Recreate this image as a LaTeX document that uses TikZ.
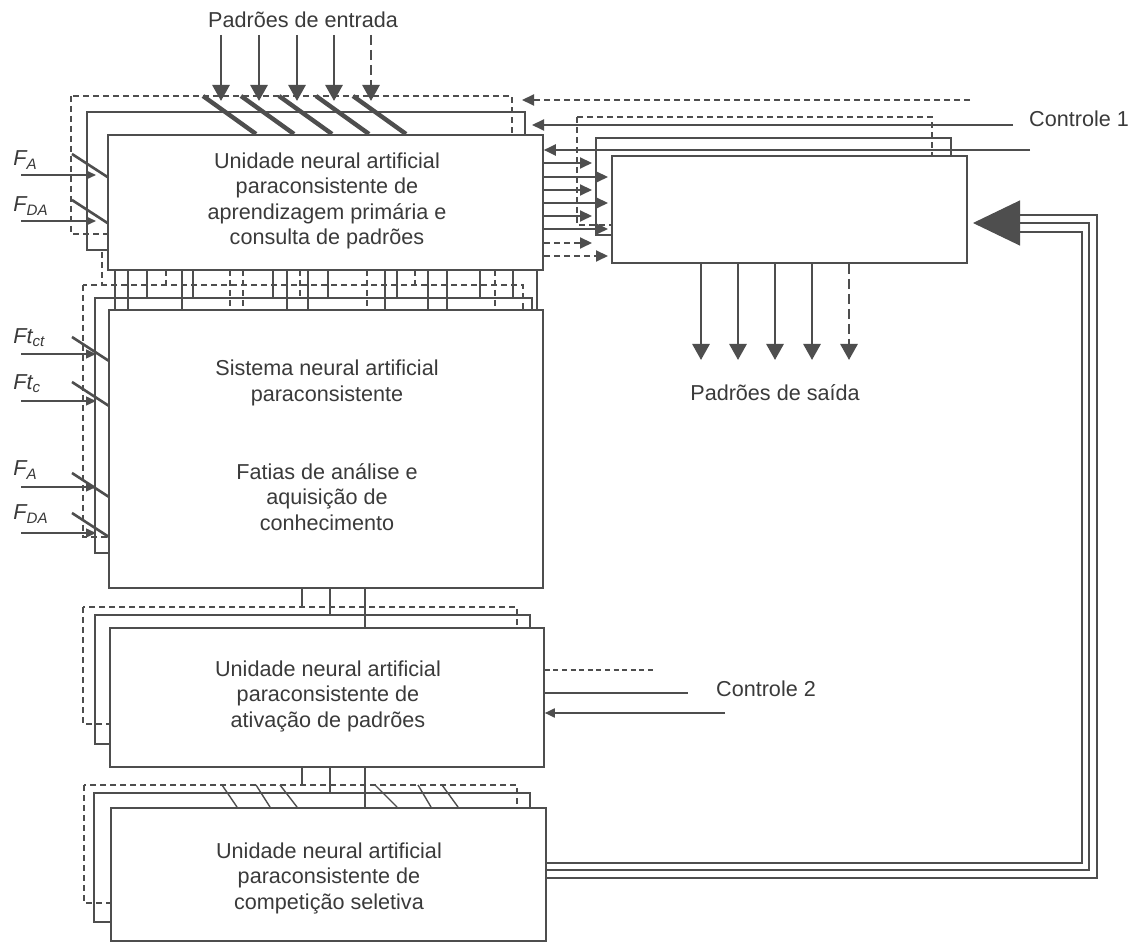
\documentclass[tikz,border=0pt]{standalone}
\usepackage{fontspec}
\setmainfont{Liberation Sans}
\usetikzlibrary{arrows.meta,fit}
\definecolor{ink}{HTML}{4E4E4E}
\definecolor{textc}{HTML}{3A3A3A}
\begin{document}
\begin{tikzpicture}[x=0.5pt,y=-0.5pt,
  txt/.style={text=textc, font=\fontsize{10.8}{12.75}\selectfont, align=center, inner sep=0pt},
  lbl/.style={text=textc, font=\fontsize{10.8}{12}\selectfont\itshape, anchor=west, inner sep=0pt},
  thin/.style={draw=ink, line width=0.7pt},
  dsh/.style={draw=ink, line width=0.7pt, dash pattern=on 3pt off 2pt},
  dshdot/.style={dash pattern=on 5pt off 2.5pt},
  box/.style={draw=ink, line width=0.8pt, fill=white, inner sep=0pt},
  bigin/.style={draw=ink, line width=1.4pt, -{Triangle[length=8pt,width=8.5pt]}},
  smallin/.style={draw=ink, line width=1pt, -{Triangle[length=6pt,width=5.5pt]}},
  sidein/.style={draw=ink, line width=0.7pt, -{Triangle[length=5pt,width=4.5pt]}},
  slashthick/.style={draw=ink, line width=2.2pt},
  slashmid/.style={draw=ink, line width=1.3pt},
  slashthin/.style={draw=ink, line width=0.7pt},
  fb/.style={draw=ink, line width=0.6pt},
]
\useasboundingbox (0,0) rectangle (1134,945);
\fill[white] (0,0) rectangle (1134,945);

% ---------- back rectangles ----------
% box 1
\draw[dsh] (71,96) rectangle (512,234);
\draw[thin] (87,112) rectangle (525,250);
% box 2
\draw[dsh] (83,285) rectangle (523,537);
\draw[thin] (95,298) rectangle (532,553);
% box 3
\draw[dsh] (83,607) rectangle (517,724);
\draw[thin] (95,615) rectangle (530,744);
% box 4
\draw[dsh] (84,785) rectangle (517,903);
\draw[thin] (94,793) rectangle (530,922);
% right box
\draw[dsh] (577,117) rectangle (932,225);
\draw[thin] (596,138) rectangle (951,235);

% ---------- slashes on top of box 1 ----------
\foreach \x in {221,259,297,334,371}
  \draw[slashthick] (\x-18,96) -- (\x+35,134);

% ---------- bus between box 1 and box 2 ----------
\foreach \x in {115,128,182,287,308,385,428,447,537}
  \draw[thin] (\x,270) -- (\x,310);
\foreach \x in {147,193,273,328,397,480,513}
  \draw[thin] (\x,270) -- (\x,298);
\foreach \x in {230,243,367,495}
  \draw[dsh] (\x,270) -- (\x,310);
\draw[dsh] (300,270) -- (300,298);
\foreach \x in {166,415}
  \draw[dsh] (\x,270) -- (\x,285);
\draw[dsh] (102,252) -- (102,285);

% ---------- bus between box 2 / box 3 and box 3 / box 4 ----------
\draw[thin] (302,588) -- (302,607);
\draw[thin] (330,588) -- (330,615);
\draw[thin] (365,588) -- (365,628);
\draw[thin] (302,767) -- (302,785);
\draw[thin] (330,767) -- (330,793);
\draw[thin] (365,767) -- (365,808);
\foreach \a/\b in {222/237,256/270,280/297,375/397,418/431,442/458}
  \draw[slashthin] (\a,785) -- (\b,807);

% ---------- left slashes ----------
\foreach \y in {154,200}
  \draw[slashmid] (72,\y) -- (109,\y+24);
\foreach \y in {337,382,473,513}
  \draw[slashmid] (72,\y) -- (109,\y+24);

% ---------- front boxes ----------
\node[box, fit={(108,135)(543,270)}] (b1) {};
\node[box, fit={(109,310)(543,588)}] (b2) {};
\node[box, fit={(110,628)(544,767)}] (b3) {};
\node[box, fit={(111,808)(546,941)}] (b4) {};
\node[box, fit={(612,156)(967,263)}] (rb) {};

% ---------- texts ----------
\node[txt] (t1) at (327,201) {Unidade neural artificial\\paraconsistente de\\aprendizagem primária e\\consulta de padrões};
\node[txt] (t2a) at (327,383) {Sistema neural artificial\\paraconsistente};
\node[txt] (t2b) at (327,497) {Fatias de análise e\\aquisição de\\conhecimento};
\node[txt] (t3) at (328,696) {Unidade neural artificial\\paraconsistente de\\ativação de padrões};
\node[txt] (t4) at (329,878) {Unidade neural artificial\\paraconsistente de\\competição seletiva};
\node[txt] (pin) at (303,20) {Padrões de entrada};
\node[txt] (pout) at (775,393) {Padrões de saída};
\node[txt] (c1) at (1079,119) {Controle 1};
\node[txt] (c2) at (766,689) {Controle 2};

% ---------- input patterns ----------
\foreach \x in {221,259,297,334}
  \draw[bigin] (\x,35) -- (\x,101);
\draw[bigin, dshdot] (371,35) -- (371,101);

% ---------- output patterns ----------
\foreach \x in {701,738,775,812}
  \draw[bigin] (rb.south -| \x,0) -- (\x,360);
\draw[bigin, dshdot] (rb.south -| 849,0) -- (849,360);

% ---------- left inputs ----------
\node[lbl] (fa1) at (13,160) {F\textsubscript{A}};
\node[lbl] (fda1) at (13,206) {F\textsubscript{DA}};
\node[lbl] (ftct) at (13,338) {Ft\textsubscript{ct}};
\node[lbl] (ftc) at (13,384) {Ft\textsubscript{c}};
\node[lbl] (fa2) at (13,470) {F\textsubscript{A}};
\node[lbl] (fda2) at (13,514) {F\textsubscript{DA}};
\foreach \y in {175,221,354,401,487,533}
  \draw[sidein] (21,\y) -- (96,\y);

% ---------- box 1 to right box ----------
\foreach \y/\t in {163/592,177/608,190/592,203/608,216/592,229/608}
  \draw[smallin] (b1.east |- 0,\y) -- (\t,\y);
\foreach \y/\t in {243/592,256/608}
  \draw[smallin, dash pattern=on 3pt off 2pt] (b1.east |- 0,\y) -- (\t,\y);

% ---------- Controle 1 ----------
\draw[smallin, dash pattern=on 3pt off 2pt] (970,100) -- (522,100);
\draw[smallin] (1013,125) -- (532,125);
\draw[smallin] (1030,150) -- (b1.east |- 0,150);

% ---------- Controle 2 ----------
\draw[thin, dash pattern=on 2.5pt off 1.8pt] (b3.east |- 0,670) -- (654,670);
\draw[thin] (b3.east |- 0,693) -- (688,693);
\draw[sidein, line width=0.9pt] (725,713) -- (b3.east |- 0,713);

% ---------- feedback from box 4 to right box ----------
\coordinate (tipb) at (973,223);
\draw[fb] (b4.east |- 0,878) -- (1097,878) -- (1097,215) -- (1020,215);
\draw[fb] (b4.east |- 0,863) -- (1082,863) -- (1082,232) -- (1020,232);
\draw[fb, -{Triangle[length=23.5pt,width=22.5pt]}] (b4.east |- 0,870) -- (1089,870) -- (1089,223) -- (tipb);
\end{tikzpicture}
\end{document}
